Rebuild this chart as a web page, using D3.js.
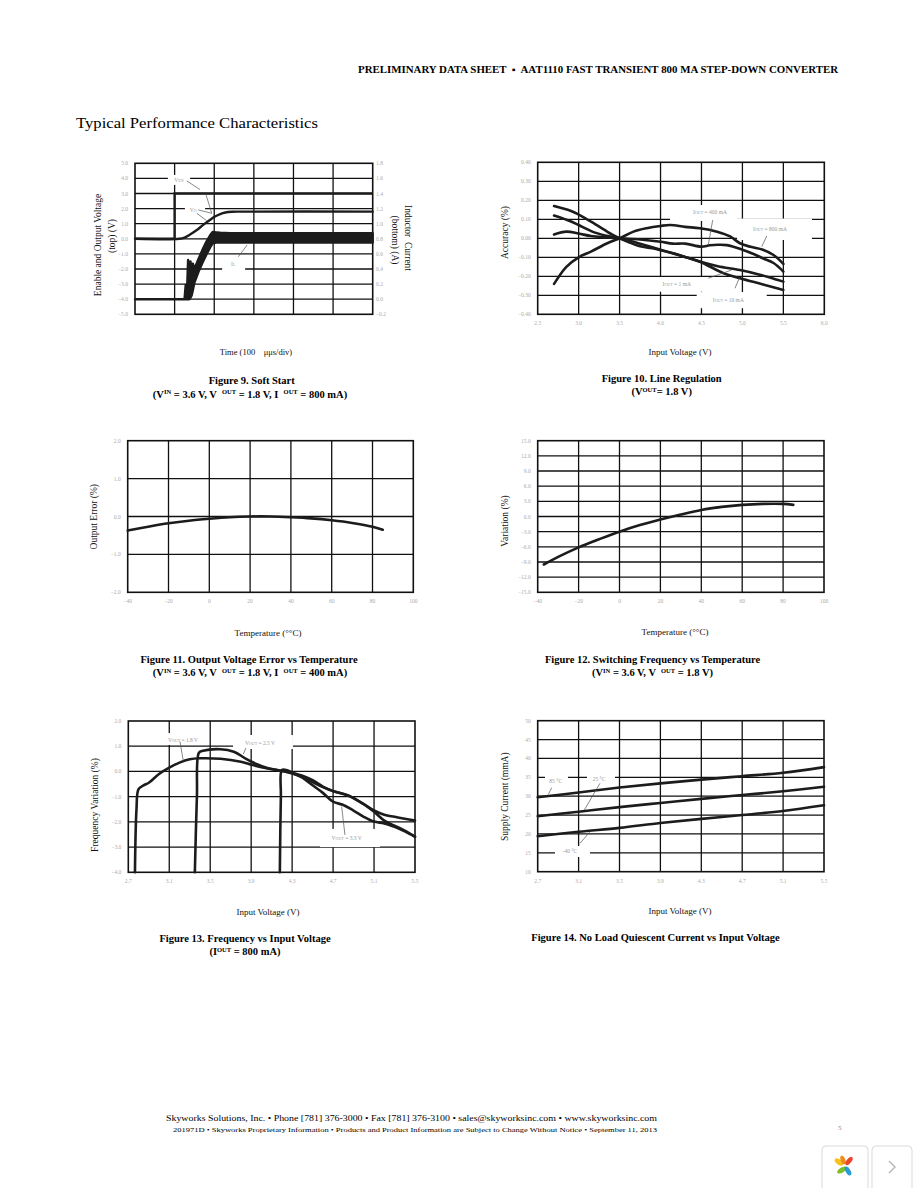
<!DOCTYPE html>
<html><head><meta charset="utf-8">
<script src="https://cdn.jsdelivr.net/npm/d3@7"></script>
<style>
body{margin:0;background:#fff;}
svg text{font-family:"Liberation Serif","Times New Roman",serif;white-space:pre;}
</style></head>
<body><svg id="page" width="918" height="1188"></svg>
<script>
// ---------------- DATA ----------------
// Figure 9: Soft Start
const f9TimeTicks = [0,100,200,300,400,500,600];
const f9LeftTicks = [5,4,3,2,1,0,-1,-2,-3,-4,-5];
const f9RightTicks = [1.8,1.6,1.4,1.2,1.0,0.8,0.6,0.4,0.2,0.0,-0.2];
const f9EnableT = [0,100,100,600];
const f9EnableV = [0,0,3.0,3.0];
const f9VoutT = [0,112,125,140,156,172,189,202,215,228,245,265,600];
const f9VoutV = [0,0,0.08,0.3,0.58,0.92,1.25,1.48,1.64,1.74,1.79,1.8,1.8];
const f9IlT  = [0,125,128,131,134,137,140,143,146,150,160,170,180,190,196,205,215,240,600];
const f9IlLo = [0,0,0,0,0,0,0.02,0.05,0.12,0.22,0.36,0.48,0.59,0.69,0.74,0.75,0.75,0.75,0.75];
const f9IlHi = [0,0,0.19,0.05,0.52,0.2,0.50,0.35,0.47,0.40,0.53,0.65,0.76,0.85,0.89,0.885,0.88,0.875,0.875];

// Figure 10: Line Regulation
const f10XTicks = [2.5,3.0,3.5,4.0,4.5,5.0,5.5,6.0];
const f10YTicks = [0.4,0.3,0.2,0.1,0.0,-0.1,-0.2,-0.3,-0.4];
const f10Volt800 = [2.7,2.85,3.0,3.15,3.35,3.5,3.67,3.83,4.0,4.12,4.3,4.48,4.69,4.85,4.97,5.1,5.25,5.38,5.5];
const f10Acc800  = [-0.24,-0.15,-0.10,-0.07,-0.026,0.0,0.035,0.053,0.065,0.07,0.06,0.053,0.035,0.01,-0.026,-0.045,-0.06,-0.088,-0.135];
const f10Volt400 = [2.7,2.85,3.0,3.15,3.35,3.5,3.75,4.0,4.15,4.3,4.5,4.6,4.7,4.81,5.0,5.15,5.25,5.38,5.5];
const f10Acc400  = [0.02,0.035,0.025,0.012,0.005,0.0,-0.006,-0.018,-0.028,-0.028,-0.044,-0.037,-0.034,-0.036,-0.06,-0.085,-0.105,-0.13,-0.175];
const f10Volt1 = [2.7,2.9,3.0,3.2,3.4,3.5,3.7,3.9,4.15,4.3,4.5,4.7,4.97,5.2,5.4,5.5];
const f10Acc1  = [0.12,0.09,0.07,0.03,0.008,0.0,-0.022,-0.047,-0.079,-0.098,-0.125,-0.147,-0.167,-0.19,-0.215,-0.228];
const f10Volt10 = [2.7,2.9,3.0,3.2,3.4,3.5,3.6,3.75,3.9,4.15,4.3,4.48,4.77,4.97,5.2,5.4,5.5];
const f10Acc10  = [0.17,0.145,0.125,0.075,0.022,0.0,-0.018,-0.042,-0.052,-0.079,-0.098,-0.123,-0.184,-0.21,-0.237,-0.26,-0.272];

// Figure 11: Output Voltage Error vs Temperature
const tempTicks = [-40,-20,0,20,40,60,80,100];
const f11YTicks = [2,1,0,-1,-2];
const f11Temp = [-40,-30,-20,-10,0,10,20,30,40,50,60,70,80,85];
const f11Err  = [-0.37,-0.27,-0.18,-0.11,-0.06,-0.02,0.0,0.0,-0.02,-0.05,-0.1,-0.17,-0.27,-0.35];

// Figure 12: Switching Frequency vs Temperature
const f12YTicks = [15,12,9,6,3,0,-3,-6,-9,-12,-15];
const f12Temp = [-37,-30,-20,-10,0,10,20,30,40,50,60,70,80,85];
const f12Var  = [-9.5,-8.0,-6.1,-4.5,-3.0,-1.7,-0.6,0.4,1.3,1.9,2.3,2.5,2.5,2.3];

// Figure 13: Frequency vs Input Voltage
const vinTicks = [2.7,3.1,3.5,3.9,4.3,4.7,5.1,5.5];
const f13YTicks = [2,1,0,-1,-2,-3,-4];
const f13Volt18 = [2.765,2.78,2.80,2.85,2.9,3.0,3.1,3.2,3.3,3.4,3.6,3.8,3.9,4.0,4.2,4.3,4.4,4.5,4.6,4.7,4.85,5.0,5.1,5.2,5.3,5.4,5.5];
const f13Freq18 = [-4.0,-1.5,-0.70,-0.55,-0.45,-0.1,0.15,0.35,0.48,0.52,0.50,0.38,0.27,0.17,0.02,-0.05,-0.17,-0.35,-0.6,-0.78,-0.97,-1.3,-1.55,-1.72,-1.8,-1.88,-1.95];
const f13Volt25 = [3.35,3.37,3.39,3.43,3.6,3.73,3.85,3.95,4.05,4.2,4.3,4.4,4.5,4.6,4.7,4.85,5.0,5.1,5.2,5.3,5.4,5.5];
const f13Freq25 = [-4.0,-1.0,0.74,0.82,0.88,0.78,0.5,0.30,0.15,0.02,-0.08,-0.22,-0.42,-0.62,-0.78,-0.95,-1.3,-1.6,-1.95,-2.15,-2.35,-2.59];
const f13Volt33 = [4.18,4.19,4.2,4.25,4.3,4.4,4.5,4.6,4.7,4.8,4.9,5.0,5.1,5.2,5.3,5.4,5.5];
const f13Freq33 = [-4.0,-1.0,0.06,0.05,-0.05,-0.25,-0.55,-0.85,-1.2,-1.33,-1.55,-1.8,-1.99,-2.06,-2.2,-2.38,-2.59];

// Figure 14: No Load Quiescent Current vs Input Voltage
const f14YTicks = [50,45,40,35,30,25,20,15,10];
const f14Volt = [2.7,3.1,3.5,3.9,4.3,4.7,5.1,5.5];
const f14I85  = [29.7,31.0,32.3,33.4,34.4,35.3,36.2,37.7];
const f14I25  = [24.7,25.9,27.1,28.2,29.3,30.3,31.3,32.5];
const f14Im40 = [19.4,20.6,21.6,22.9,24.0,25.0,26.1,27.6];

// ---------------- DRAWING ----------------
const svg = d3.select('#page');
const INK = '#1c1c1c';
const TICKC = '#aaa';

function zip(a,b){ return a.map((v,i)=>[v,b[i]]); }

function panel(o){
  const g = svg.append('g');
  const x = d3.scaleLinear().domain(o.xDomain).range([o.left,o.right]);
  const y = d3.scaleLinear().domain(o.yDomain).range([o.bottom,o.top]);
  const grid = g.append('g').attr('stroke','#111').attr('stroke-width',1.3);
  grid.selectAll('line.v').data(o.xTicks.slice(1,-1)).join('line').attr('class','v')
    .attr('x1',d=>x(d)).attr('x2',d=>x(d)).attr('y1',o.top).attr('y2',o.bottom);
  grid.selectAll('line.h').data(o.yTicks.slice(1,-1)).join('line').attr('class','h')
    .attr('y1',d=>y(d)).attr('y2',d=>y(d)).attr('x1',o.left).attr('x2',o.right);
  g.append('rect').attr('x',o.left).attr('y',o.top).attr('width',o.right-o.left).attr('height',o.bottom-o.top)
    .attr('fill','none').attr('stroke','#111').attr('stroke-width',1.6);
  if(o.xFmt){
    g.selectAll('text.xt').data(o.xTicks).join('text').attr('class','xt')
      .attr('x',d=>x(d)).attr('y',o.bottom+11).attr('text-anchor','middle')
      .attr('font-size',5.5).attr('fill',TICKC).text(o.xFmt);
  }
  if(o.yFmt){
    g.selectAll('text.yt').data(o.yTicks).join('text').attr('class','yt')
      .attr('x',o.left-7).attr('y',d=>y(d)+2).attr('text-anchor','end')
      .attr('font-size',5.5).attr('fill',TICKC).text(o.yFmt);
  }
  const layerBox = g.append('g');
  const layerCurve = g.append('g');
  const layerNote = g.append('g');
  return {g,x,y,layerBox,layerCurve,layerNote};
}

function curve(p, xs, ys, yScale, w){
  const ys2 = yScale || p.y;
  p.layerCurve.append('path').datum(zip(xs,ys))
    .attr('d', d3.line().x(d=>p.x(d[0])).y(d=>ys2(d[1])).curve(d3.curveCatmullRom.alpha(0.5)))
    .attr('fill','none').attr('stroke',INK).attr('stroke-width',w||2.6)
    .attr('stroke-linejoin','round').attr('stroke-linecap','round');
}

function note(p, n){
  // white box
  p.layerBox.append('rect')
    .attr('x',p.x(n.box[0])).attr('y',p.y(n.box[3]))
    .attr('width',p.x(n.box[1])-p.x(n.box[0])).attr('height',p.y(n.box[2])-p.y(n.box[3]))
    .attr('fill','#fff');
  const t = p.layerNote.append('text').attr('x',p.x(n.at[0])).attr('y',p.y(n.at[1])+2)
    .attr('text-anchor','middle').attr('font-size',5.5).attr('fill','#999');
  t.append('tspan').text(n.v);
  if(n.sub) t.append('tspan').attr('font-size',4).text(n.sub);
  if(n.rest) t.append('tspan').text(n.rest);
  (n.ptr||[]).forEach(q=>{
    p.layerNote.append('line').attr('x1',p.x(q[0])).attr('y1',p.y(q[1]))
      .attr('x2',p.x(q[2])).attr('y2',p.y(q[3])).attr('stroke','#555').attr('stroke-width',0.7);
  });
}

function title(x,y,txt,rot,size){
  svg.append('text').attr('transform',`translate(${x},${y}) rotate(${rot||0})`)
    .attr('text-anchor','middle').attr('font-size',size||9.5).attr('fill','#111').text(txt);
}

function rich(x,y,parts,size){
  const t = svg.append('text').attr('x',x).attr('y',y).attr('text-anchor','middle')
    .attr('font-size',size).attr('font-weight','bold').attr('fill','#000');
  let raised=false;
  parts.forEach(p=>{
    const sub = Array.isArray(p);
    const ts = t.append('tspan').text(sub?p[0]:p);
    if(sub){ ts.attr('font-size',size*0.62); if(!raised){ts.attr('dy',-3.2);} raised=true; }
    else if(raised){ ts.attr('dy',3.2); raised=false; }
  });
}

const f1 = d3.format('.1f'), f2 = d3.format('.2f'), f0 = d3.format('d');

// ----- Header / title
svg.append('text').attr('x',838).attr('y',72.5).attr('text-anchor','end').attr('font-size',10)
  .attr('font-weight','bold').attr('textLength',480).attr('lengthAdjust','spacingAndGlyphs')
  .text('PRELIMINARY DATA SHEET  \u25AA  AAT1110 FAST TRANSIENT 800 MA STEP-DOWN CONVERTER');
svg.append('text').attr('x',76).attr('y',128).attr('font-size',15).attr('textLength',242)
  .attr('lengthAdjust','spacingAndGlyphs').text('Typical Performance Characteristics');

// ----- Figure 9
{
  const p = panel({left:135,right:372.7,top:163.3,bottom:314.3,xDomain:[0,600],yDomain:[-5,5],
    xTicks:f9TimeTicks,yTicks:f9LeftTicks,yFmt:f1});
  const yR = d3.scaleLinear().domain([-0.2,1.8]).range([314.3,163.3]);
  p.g.selectAll('text.rt').data(f9RightTicks).join('text').attr('class','rt')
    .attr('x',376).attr('y',d=>yR(d)+2).attr('font-size',5.5).attr('fill',TICKC).text(f1);
  note(p,{box:[83,139,3.57,4.23],at:[111,3.9],v:'V',sub:'EN',ptr:[[131,3.83,164,3.26],[179,2.95,193.6,1.69]]});
  note(p,{box:[126,177,1.64,2.13],at:[147,1.9],v:'V',sub:'O',ptr:[[160,1.91,193.6,1.69],[156,1.69,181,1.2]]});
  note(p,{box:[220,278,-2.07,-1.34],at:[248,-1.67],v:'I',sub:'L',ptr:[[261,-1.19,283,-0.41]]});
  // inductor current envelope
  const band = f9IlT.map((t,i)=>({t,lo:f9IlLo[i],hi:f9IlHi[i]}));
  p.layerCurve.append('path').datum(band)
    .attr('d',d3.area().x(d=>p.x(d.t)).y0(d=>yR(d.lo)).y1(d=>yR(d.hi)))
    .attr('fill',INK).attr('stroke',INK).attr('stroke-width',2.4).attr('stroke-linejoin','round');
  p.layerCurve.append('path').datum(zip(f9EnableT,f9EnableV))
    .attr('d',d3.line().x(d=>p.x(d[0])).y(d=>p.y(d[1])))
    .attr('fill','none').attr('stroke',INK).attr('stroke-width',2.4);
  curve(p,f9VoutT,f9VoutV,null,2.4);
  title(101,245,'Enable and Output Voltage',-90);
  title(115,236,'(top) (V)',-90);
  title(405,238,'Inductor  Current',90);
  title(392,240,'(bottom) (A)',90);
  title(256,355,'Time (100    \u03bc\u03bcs/div)',0,8.5);
  rich(251.7,384,['Figure 9. Soft Start'],10.5);
  rich(250,397.5,['(V',['IN'],' = 3.6 V, V  ',['OUT'],' = 1.8 V, I  ',['OUT'],' = 800 mA)'],10.5);
}

// ----- Figure 10
{
  const p = panel({left:537.7,right:824.3,top:162.3,bottom:314.3,xDomain:[2.5,6.0],yDomain:[-0.4,0.4],
    xTicks:f10XTicks,yTicks:f10YTicks,xFmt:f1,yFmt:f2});
  note(p,{box:[4.116,4.935,0.091,0.175],at:[4.604,0.14],v:'I',sub:'OUT',rest:' = 400 mA',ptr:[[4.637,0.096,4.583,-0.035]]});
  note(p,{box:[4.934,5.85,-0.009,0.104],at:[5.337,0.049],v:'I',sub:'OUT',rest:' = 800 mA',ptr:[[5.297,0.012,5.236,-0.044]]});
  note(p,{box:[3.77,4.564,-0.281,-0.204],at:[4.198,-0.242],v:'I',sub:'OUT',rest:' = 1 mA',ptr:[[4.583,-0.21,4.869,-0.167]]});
  note(p,{box:[4.442,5.297,-0.368,-0.283],at:[4.828,-0.325],v:'I',sub:'OUT',rest:' = 10 mA',ptr:[[4.909,-0.263,4.962,-0.21]]});
  curve(p,f10Volt800,f10Acc800);
  curve(p,f10Volt400,f10Acc400);
  curve(p,f10Volt1,f10Acc1);
  curve(p,f10Volt10,f10Acc10);
  title(508,232.5,'Accuracy (%)',-90);
  title(680,355,'Input Voltage (V)',0,9);
  rich(661.7,381.5,['Figure 10. Line Regulation'],10.5);
  rich(661.7,395,['(V',['OUT'],'= 1.8 V)'],10.5);
}

// ----- Figure 11
{
  const p = panel({left:127.7,right:413.3,top:440.7,bottom:592.3,xDomain:[-40,100],yDomain:[-2,2],
    xTicks:tempTicks,yTicks:f11YTicks,xFmt:f0,yFmt:f1});
  curve(p,f11Temp,f11Err);
  title(96.5,516.7,'Output Error (%)',-90);
  title(268,635.5,'Temperature (\u00b0\u00b0C)',0,9);
  rich(249,663,['Figure 11. Output Voltage Error vs Temperature'],10.5);
  rich(250,676,['(V',['IN'],' = 3.6 V, V  ',['OUT'],' = 1.8 V, I  ',['OUT'],' = 400 mA)'],10.5);
}

// ----- Figure 12
{
  const p = panel({left:537.7,right:824,top:440.7,bottom:592.3,xDomain:[-40,100],yDomain:[-15,15],
    xTicks:tempTicks,yTicks:f12YTicks,xFmt:f0,yFmt:f1});
  curve(p,f12Temp,f12Var);
  title(508,521,'Variation (%)',-90);
  title(675,635,'Temperature (\u00b0\u00b0C)',0,9);
  rich(652.5,663,['Figure 12. Switching Frequency vs Temperature'],10.5);
  rich(652.5,676,['(V',['IN'],' = 3.6 V, V  ',['OUT'],' = 1.8 V)'],10.5);
}

// ----- Figure 13
{
  const p = panel({left:128.3,right:415,top:721,bottom:872.3,xDomain:[2.7,5.5],yDomain:[-4,2],
    xTicks:vinTicks,yTicks:f13YTicks,xFmt:f1,yFmt:f1});
  note(p,{box:[3.01,3.468,1.05,1.52],at:[3.234,1.246],v:'V',sub:'OUT',rest:' = 1.8 V',ptr:[[3.205,1.18,3.237,0.414]]});
  note(p,{box:[3.723,4.308,0.89,1.445],at:[3.986,1.127],v:'V',sub:'OUT',rest:' = 2.5 V',ptr:[[3.849,0.929,3.823,0.69]]});
  note(p,{box:[4.572,5.158,-3.0,-2.28],at:[4.833,-2.652],v:'V',sub:'OUT',rest:' = 3.3 V',ptr:[[4.816,-2.52,4.784,-1.4]]});
  curve(p,f13Volt18,f13Freq18);
  curve(p,f13Volt25,f13Freq25);
  curve(p,f13Volt33,f13Freq33);
  title(98,805,'Frequency Variation (%)',-90);
  title(268,915,'Input Voltage (V)',0,9);
  rich(245,942,['Figure 13. Frequency vs Input Voltage'],10.5);
  rich(245,955,['(I',['OUT'],' = 800 mA)'],10.5);
}

// ----- Figure 14
{
  const p = panel({left:537.7,right:824,top:720.7,bottom:871.7,xDomain:[2.7,5.5],yDomain:[10,50],
    xTicks:vinTicks,yTicks:f14YTicks,xFmt:f1,yFmt:f0});
  note(p,{box:[2.771,2.996,32.44,35.88],at:[2.876,34.03],v:'85 \u00b0C',ptr:[[2.837,32.25,2.804,30.5]]});
  note(p,{box:[3.182,3.456,32.7,36.15],at:[3.3,34.56],v:'25 \u00b0C',ptr:[[3.309,33.42,3.156,26.35]]});
  note(p,{box:[2.869,3.211,13.9,16.8],at:[3.016,15.48],v:'-40 \u00b0C',ptr:[[3.114,17.52,3.211,20.6]]});
  curve(p,f14Volt,f14I85);
  curve(p,f14Volt,f14I25);
  curve(p,f14Volt,f14Im40);
  title(508,796.7,'Supply Current (mmA)',-90);
  title(680,913.5,'Input Voltage (V)',0,9);
  rich(655.5,940.5,['Figure 14. No Load Quiescent Current vs Input Voltage'],10.5);
}

// ----- Footer
svg.append('text').attr('x',166).attr('y',1120.5).attr('font-size',9).attr('textLength',491)
  .attr('lengthAdjust','spacingAndGlyphs')
  .text('Skyworks Solutions, Inc. \u2022 Phone [781] 376-3000 \u2022 Fax [781] 376-3100 \u2022 sales@skyworksinc.com \u2022 www.skyworksinc.com');
svg.append('text').attr('x',173).attr('y',1131.5).attr('font-size',7).attr('textLength',484)
  .attr('lengthAdjust','spacingAndGlyphs')
  .text('201971D \u2022 Skyworks Proprietary Information \u2022 Products and Product Information are Subject to Change Without Notice \u2022 September 11, 2013');
svg.append('text').attr('x',838).attr('y',1130).attr('font-size',7).attr('fill','#888').text('5');

// bottom-right viewer widgets
svg.append('rect').attr('x',822).attr('y',1146).attr('width',46).attr('height',48).attr('rx',4)
  .attr('fill','#fff').attr('stroke','#d9d9d9');
svg.append('rect').attr('x',872).attr('y',1146).attr('width',40).attr('height',48).attr('rx',4)
  .attr('fill','#fff').attr('stroke','#d9d9d9');
const ic = svg.append('g').attr('transform','translate(845,1167)');
ic.append('ellipse').attr('cx',-6).attr('cy',-5).attr('rx',5).attr('ry',2.6).attr('transform','rotate(35,-6,-5)').attr('fill','#f6c21c');
ic.append('ellipse').attr('cx',-2).attr('cy',-7).attr('rx',4.5).attr('ry',2.3).attr('transform','rotate(70,-2,-7)').attr('fill','#f08a1c');
ic.append('ellipse').attr('cx',4).attr('cy',-6).attr('rx',5).attr('ry',2.4).attr('transform','rotate(-50,4,-6)').attr('fill','#e9462a');
ic.append('ellipse').attr('cx',-3).attr('cy',3).attr('rx',5.5).attr('ry',2.5).attr('transform','rotate(-30,-3,3)').attr('fill','#7cbf2a');
ic.append('ellipse').attr('cx',3).attr('cy',4).attr('rx',5).attr('ry',2.4).attr('transform','rotate(60,3,4)').attr('fill','#2a9ad8');
svg.append('path').attr('d','M889,1161 L895,1167 L889,1173').attr('fill','none').attr('stroke','#b5b5b5').attr('stroke-width',1.4);
</script>
</body></html>
